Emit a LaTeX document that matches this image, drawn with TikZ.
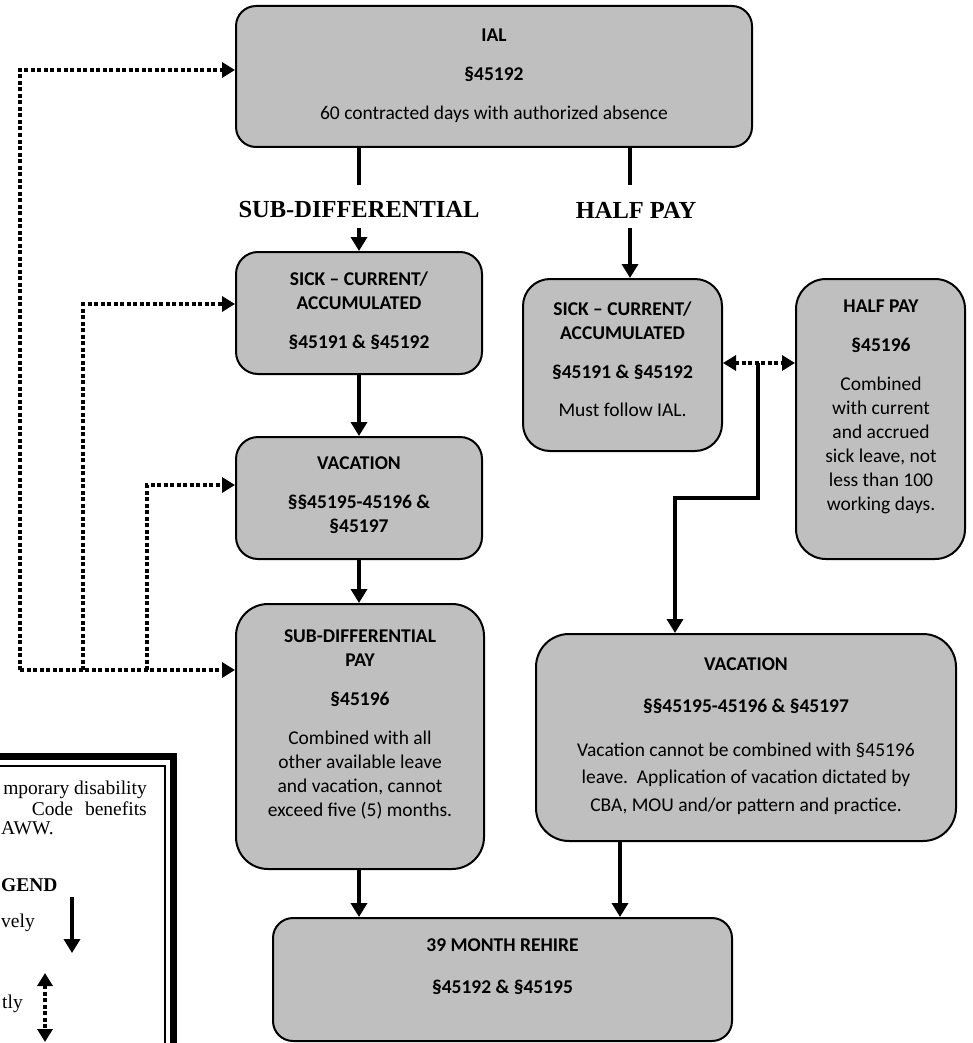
\documentclass[tikz,border=0pt]{standalone}
\usepackage{fontspec}
\setmainfont{Carlito}
\newfontfamily\serifface{Liberation Serif}
\usetikzlibrary{arrows.meta}
\definecolor{boxgray}{HTML}{BFBFBF}
\begin{document}
\begin{tikzpicture}[x=1pt,y=-1pt,
  box/.style={draw=black, line width=2pt, fill=boxgray, rounded corners=#1, inner sep=0pt},
  box/.default=22pt,
  txt/.style={align=center, inner sep=0pt, font=\fontsize{19.5}{24}\selectfont},
  stem/.style={line width=4.5pt},
  arr/.style={line width=4.5pt, -{Triangle[length=14pt,width=16pt]}},
  dotline/.style={line width=4pt, dash pattern=on 4pt off 2.5pt},
  dotarr/.style={dotline, -{Triangle[length=13pt,width=15pt]}},
  dotboth/.style={dotline, {Triangle[length=13pt,width=15pt]}-{Triangle[length=13pt,width=15pt]}},
  lbl/.style={font=\serifface\bfseries\fontsize{24.5}{28}\selectfont, inner sep=0pt},
  leg/.style={font=\serifface\fontsize{19.5}{21}\selectfont, inner sep=0pt},
  legb/.style={font=\serifface\bfseries\fontsize{19.5}{21}\selectfont, inner sep=0pt}
]
\useasboundingbox (0,0) rectangle (973,1043);
\clip (0,0) rectangle (973,1043);

% boxes
\node[box=20pt, minimum width=516pt, minimum height=141pt] (ial) at (494,76.5) {};
\node[box=22pt, minimum width=246pt, minimum height=122pt] (sick1) at (359,313) {};
\node[box=22pt, minimum width=246pt, minimum height=122pt] (vac1) at (359,498) {};
\node[box=32pt, minimum width=248pt, minimum height=265pt] (sub) at (360,736.5) {};
\node[box=27pt, minimum width=199pt, minimum height=172pt] (sick2) at (622.5,365) {};
\node[box=30pt, minimum width=169pt, minimum height=280pt] (half) at (880.5,419) {};
\node[box=33pt, minimum width=420pt, minimum height=207pt] (vac2) at (746,737.5) {};
\node[box=20pt, minimum width=459pt, minimum height=123pt] (rehire) at (502.5,979.5) {};

% box texts
\node[txt] (ialt) at (494,76) {{\bfseries IAL}\\[15pt]{\bfseries §45192}\\[15pt]60 contracted days with authorized absence};
\node[txt] (sick1t) at (359,311) {{\bfseries SICK – CURRENT/}\\{\bfseries ACCUMULATED}\\[15pt]{\bfseries §45191 \& §45192}};
\node[txt] (vac1t) at (359,495) {{\bfseries VACATION}\\[15pt]{\bfseries §§45195-45196 \&}\\{\bfseries §45197}};
\node[txt] (subt) at (360,724) {{\bfseries SUB-DIFFERENTIAL}\\{\bfseries PAY}\\[15pt]{\bfseries §45196}\\[15pt]Combined with all\\other available leave\\and vacation, cannot\\exceed five (5) months.};
\node[txt] (sick2t) at (622.5,359) {{\bfseries SICK – CURRENT/}\\{\bfseries ACCUMULATED}\\[15pt]{\bfseries §45191 \& §45192}\\[14pt]Must follow IAL.};
\node[txt] (halft) at (881,407) {{\bfseries HALF PAY}\\[15pt]{\bfseries §45196}\\[15pt]Combined\\with current\\and accrued\\sick leave, not\\less than 100\\working days.};
\node[txt, font=\fontsize{19.5}{27.5}\selectfont] (vac2t) at (746,736) {{\bfseries VACATION}\\[15pt]{\bfseries §§45195-45196 \& §45197}\\[16pt]Vacation cannot be combined with §45196\\leave.\ \ Application of vacation dictated by\\CBA, MOU and/or pattern and practice.};
\node[txt] (rehiret) at (502.5,967) {{\bfseries 39 MONTH REHIRE}\\[18pt]{\bfseries §45192 \& §45195}};

% path labels
\node[lbl] (lsub) at (359,210) {SUB-DIFFERENTIAL};
\node[lbl] (lhalf) at (636,210) {HALF PAY};

% solid connectors
\coordinate (s1) at (359,185);
\coordinate (s2) at (359,228);
\coordinate (h1) at (630,185);
\coordinate (h2) at (630,228);
\draw[stem] (ial.south -| s1) -- (s1);
\draw[arr] (s2) -- (sick1.north);
\draw[stem] (ial.south -| h1) -- (h1);
\draw[arr] (h2) -- (h2 |- sick2.north);
\draw[arr] (sick1.south) -- (vac1.north);
\draw[arr] (vac1.south) -- (vac1.south |- sub.north);
\draw[arr] (sub.south -| s1) -- (rehire.north -| s1);
\coordinate (v2) at (620,0);
\draw[arr] (vac2.south -| v2) -- (rehire.north -| v2);

% dotted connectors on the left
\coordinate (d1) at (20,670);
\coordinate (d2) at (83,670);
\coordinate (d3) at (147,670);
\coordinate (e1) at (0,70);
\coordinate (e2) at (0,304);
\coordinate (e3) at (0,485);
\draw[dotarr] (d1) |- (ial.west |- e1);
\draw[dotarr] (d2) |- (sick1.west |- e2);
\draw[dotarr] (d3) |- (vac1.west |- e3);
\draw[dotarr] (d1) -- (sub.west |- d1);

% half pay link and route to vacation
\coordinate (dj) at (758,363);
\coordinate (bend) at (675,498);
\draw[dotboth] (sick2.east |- dj) -- (half.west |- dj);
\draw[arr] (dj) |- (bend) -- (bend |- vac2.north);

% legend (cut off by the picture's edge)
\draw[line width=6.7pt] (-10,756.7) -- (173.5,756.7) -- (173.5,1060);
\draw[line width=1.5pt] (-10,766) -- (165,766) -- (165,1060);
\node[leg, anchor=base east] (lg1) at (147,794) {mporary disability};
\node[leg, anchor=base east] (lg2) at (147,815) {Code\hspace{12pt}benefits};
\node[leg, anchor=base west] (lg3) at (1,834) {AWW.};
\node[legb, anchor=base west] (lg4) at (1,891) {GEND};
\node[leg, anchor=base west] (lg5) at (1,927) {vely};
\node[leg, anchor=base west] (lg6) at (2,1008) {tly};
\coordinate (la1) at (72,897);
\coordinate (la2) at (72,953);
\draw[arr] (la1) -- (la2);
\coordinate (lb1) at (45,973);
\coordinate (lb2) at (45,1042);
\draw[dotboth] (lb1) -- (lb2);
\end{tikzpicture}
\end{document}
